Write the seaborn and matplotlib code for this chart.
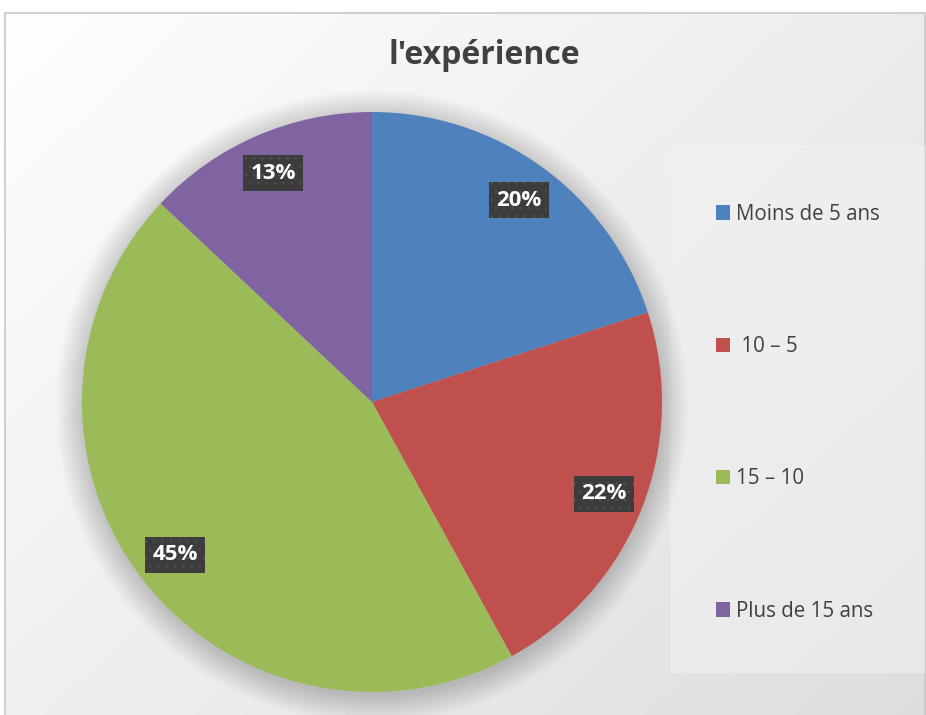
import numpy as np
import matplotlib
matplotlib.use("Agg")
import matplotlib.pyplot as plt
from matplotlib.patches import Rectangle, Circle
import seaborn as sns

# ---- data ----
categories = ["Moins de 5 ans", " 10 \u2013 5", "15 \u2013 10", "Plus de 15 ans"]
values = [20, 22, 45, 13]
colors_hex = ["#4f81bd", "#c0504d", "#9bbb59", "#8064a2"]
title = "l'expérience"

sns.set_style("white")
plt.rcParams["font.family"] = ["Open Sans", "DejaVu Sans"]
plt.rcParams["hatch.linewidth"] = 0.6
palette = sns.color_palette(colors_hex)

W, H = 926, 715
fig = plt.figure(figsize=(W / 100, H / 100), dpi=100)

# background gradient (chart area)
bg = fig.add_axes([0, 0, 1, 1], zorder=-10)
bg.set_xlim(0, W)
bg.set_ylim(0, H)
bg.axis("off")
xx, yy = np.meshgrid(np.linspace(0, 1, 200), np.linspace(0, 1, 200))
t = (xx * 0.55 + yy * 0.45)
grad = 0.995 - 0.13 * t
bg.imshow(grad, cmap="gray", vmin=0, vmax=1, extent=[5, W, 0, H - 13],
          origin="upper", aspect="auto", interpolation="bilinear")
bg.add_patch(Rectangle((5, -2), W - 5 - 1, H - 13 + 2, fill=False,
                       edgecolor="#c8c8c8", linewidth=1.2))
# legend panel
bg.add_patch(Rectangle((670, H - 673), 255, 528, facecolor="#f2f2f2",
                       edgecolor="none", alpha=0.55))

# title
fig.text(484 / W, 1 - 56 / H, title, ha="center", va="center",
         fontsize=23, fontweight="bold", color="#404040")

# pie
cx, cy, r = 372, 402, 290
ax = fig.add_axes([(cx - r) / W, (H - cy - r) / H, 2 * r / W, 2 * r / H])
ax.set_aspect("equal")
for i in range(16):
    c = Circle((0.0, -0.015), 1.0 + 0.006 * i, facecolor="black",
               alpha=0.011, edgecolor="none", zorder=0)
    c.set_clip_on(False)
    ax.add_patch(c)
wedges, texts, autotexts = ax.pie(
    values, colors=palette, startangle=90, counterclock=False,
    autopct=lambda p: f"{p:.0f}%", pctdistance=0.86,
    wedgeprops=dict(linewidth=0),
    textprops=dict(color="white", fontsize=16, fontweight="bold"))
for w in wedges:
    w.set_zorder(2)
for at in autotexts:
    at.set_zorder(5)
    at.set_bbox(dict(boxstyle="square,pad=0.33", facecolor="#3c3c3c",
                     edgecolor="#505050", hatch="..", linewidth=0))
ax.set_xlim(-1, 1)
ax.set_ylim(-1, 1)
ax.axis("off")

# legend
leg = fig.legend(wedges, categories, loc="upper left",
                 bbox_to_anchor=(697 / W, 1 - 185 / H), frameon=False,
                 fontsize=14.8, labelcolor="#404040", handlelength=0.7,
                 handleheight=0.7, handletextpad=0.3, labelspacing=5.42)

fig.savefig("out.png", dpi=100)
